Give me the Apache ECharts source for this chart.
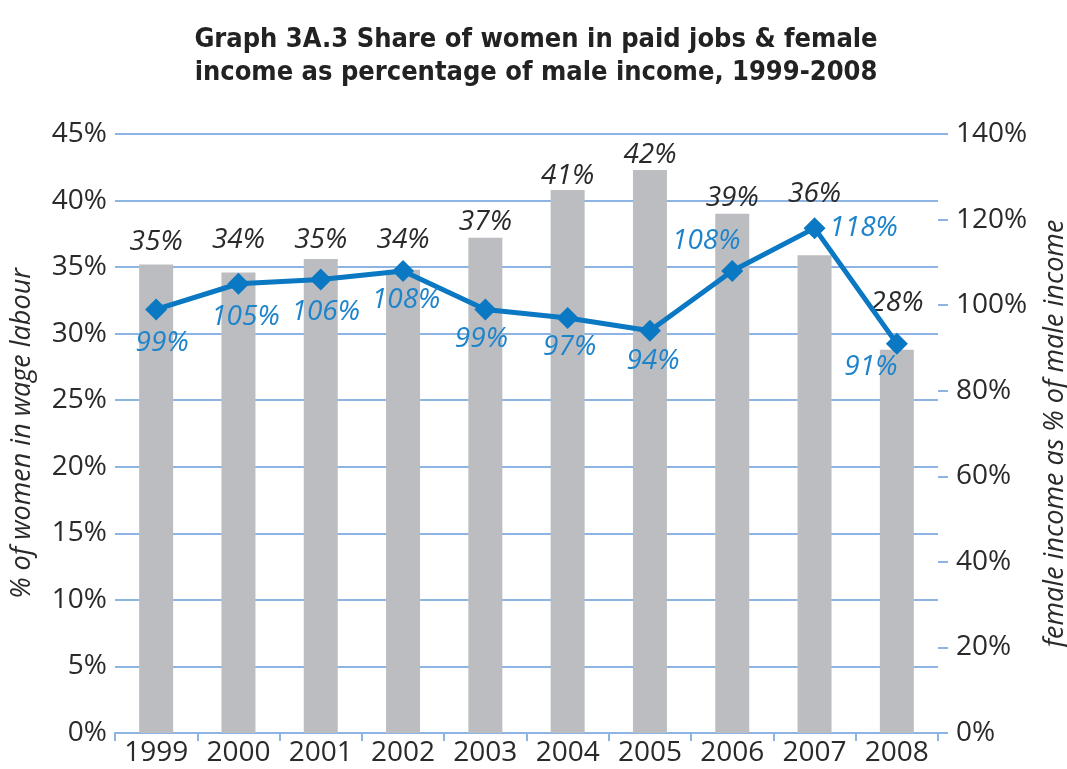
<!DOCTYPE html>
<html>
<head>
<meta charset="utf-8">
<script src="https://cdn.jsdelivr.net/npm/echarts@6/dist/echarts.min.js"></script>
<style>
html,body{margin:0;padding:0;background:#fff;}
#chart{width:1067px;height:769px;}
</style>
</head>
<body>
<div id="chart"></div>
<script>
// ---- data ----
var years = ['1999','2000','2001','2002','2003','2004','2005','2006','2007','2008'];
var womenShare = [35.2, 34.6, 35.6, 34.8, 37.2, 40.8, 42.3, 39.0, 35.9, 28.8];
var womenShareLabels = ['35%','34%','35%','34%','37%','41%','42%','39%','36%','28%'];
var incomeRatio = [99, 105, 106, 108, 99, 97, 94, 108, 118, 91];
var leftTicks = [0, 5, 10, 15, 20, 25, 30, 35, 40, 45];
var rightTicks = [0, 20, 40, 60, 80, 100, 120, 140];

// ---- styles ----
var GRID_BLUE = '#8db4e2';
var LINE_BLUE = '#0a78c2';
var LABEL_BLUE = '#1d84cc';
var TEXT = '#2a2a2a';
var AXIS_FONT = "'Open Sans', 'DejaVu Sans', sans-serif";
var barLabelDist = [8, 18, 5, 16, 2, 0, 1, 2, 47, 33];
var lineLabelOffsets = [[6,34],[7,33],[5,33],[3,29],[-4,30],[2,29],[3,30],[-26,-30],[49,0],[-26,23]];

var barData = womenShare.map(function (v, i) {
  return { value: v, label: { distance: barLabelDist[i] } };
});
var lineData = incomeRatio.map(function (v, i) {
  return { value: v, label: { offset: lineLabelOffsets[i] } };
});

var chart = echarts.init(document.getElementById('chart'), null, { renderer: 'canvas' });
chart.setOption({
  animation: false,
  backgroundColor: '#ffffff',
  title: {
    text: 'Graph 3A.3 Share of women in paid jobs & female\nincome as percentage of male income, 1999-2008',
    left: 531, top: 18, textAlign: 'center',
    textStyle: {
      fontFamily: "'Liberation Sans Narrow', 'DejaVu Sans Condensed', sans-serif",
      fontWeight: 'bold', fontSize: 27, lineHeight: 33, color: '#222'
    }
  },
  grid: { left: 115, right: 129, top: 134, bottom: 36, containLabel: false, outerBoundsMode: 'none' },
  xAxis: {
    type: 'category', data: years, boundaryGap: true,
    axisLine: { lineStyle: { color: GRID_BLUE, width: 2 } },
    axisTick: { show: true, length: 8, interval: 0, lineStyle: { color: GRID_BLUE, width: 2 } },
    axisLabel: { color: TEXT, fontSize: 28, fontFamily: AXIS_FONT, margin: 6, interval: 0 }
  },
  yAxis: [{
    type: 'value', min: 0, max: 45, interval: 5, position: 'left',
    name: '% of women in wage labour', nameLocation: 'middle', nameGap: 79, nameRotate: 90,
    nameTextStyle: { fontStyle: 'italic', fontSize: 27, color: TEXT, fontFamily: AXIS_FONT },
    axisLine: { show: false }, axisTick: { show: false },
    splitLine: { lineStyle: { color: GRID_BLUE, width: 2 } },
    axisLabel: { formatter: '{value}%', color: TEXT, fontSize: 28, fontFamily: AXIS_FONT, margin: 8 }
  }, {
    type: 'value', min: 0, max: 140, interval: 20, position: 'right',
    name: 'female income as % of male income', nameLocation: 'middle', nameGap: 104, nameRotate: 90,
    nameTextStyle: { fontStyle: 'italic', fontSize: 27, color: TEXT, fontFamily: AXIS_FONT },
    axisLine: { show: false },
    axisTick: { show: true, length: 10, lineStyle: { color: GRID_BLUE, width: 2 } },
    splitLine: { show: false },
    axisLabel: { formatter: '{value}%', color: TEXT, fontSize: 28, fontFamily: AXIS_FONT, margin: 18 }
  }],
  series: [{
    type: 'bar', yAxisIndex: 0, data: barData, barWidth: 34,
    itemStyle: { color: '#bcbdc1' },
    label: {
      show: true, position: 'top', color: TEXT, fontStyle: 'italic', fontSize: 28, fontFamily: AXIS_FONT,
      formatter: function (p) { return womenShareLabels[p.dataIndex]; }
    },
    z: 2
  }, {
    type: 'line', yAxisIndex: 1, data: lineData,
    symbol: 'diamond', symbolSize: 22,
    lineStyle: { color: LINE_BLUE, width: 5 },
    itemStyle: { color: LINE_BLUE },
    label: {
      show: true, position: 'inside', color: LABEL_BLUE, fontStyle: 'italic', fontSize: 28, fontFamily: AXIS_FONT,
      formatter: '{c}%'
    },
    z: 3
  }]
});
</script>
</body>
</html>
